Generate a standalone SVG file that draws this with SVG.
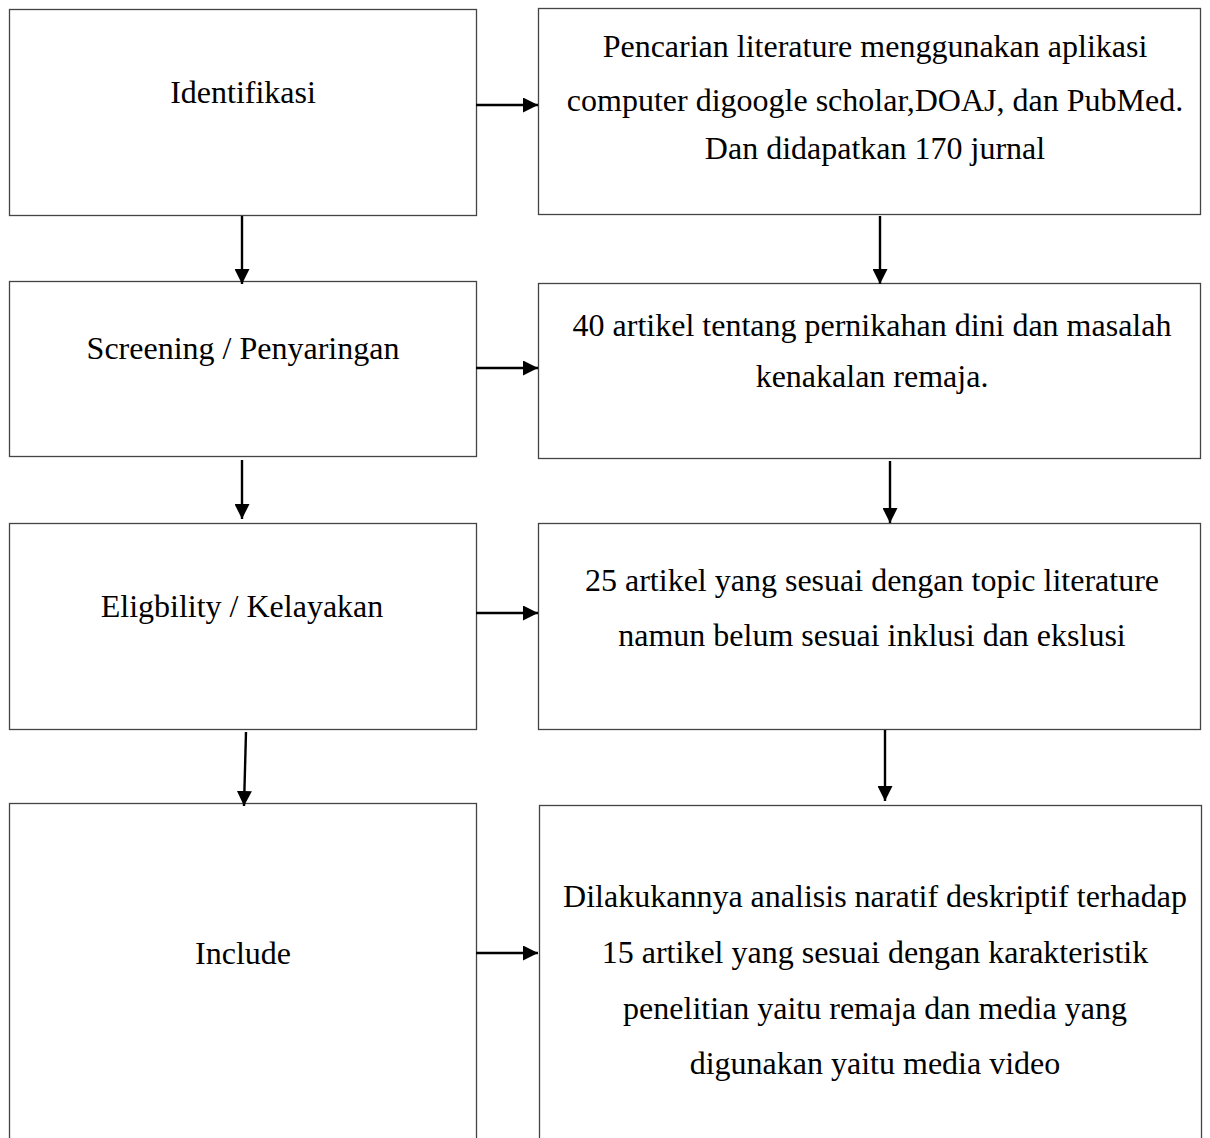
<svg xmlns="http://www.w3.org/2000/svg" width="1210" height="1138" viewBox="0 0 1210 1138">
<style>
rect.box{fill:#fff;stroke:#444;stroke-width:1.3}
text{font-family:"Liberation Serif","Times New Roman",serif;font-size:32px;fill:#000;text-anchor:middle}
.c line{stroke:#000;stroke-width:2.4}
</style>
<defs>
<marker id="ah" viewBox="0 0 10 10" refX="10" refY="5" markerWidth="15" markerHeight="15" orient="auto" markerUnits="userSpaceOnUse">
<path d="M0,0 L10,5 L0,10 z" fill="#000"/>
</marker>
</defs>
<rect width="1210" height="1138" fill="#fff"/>
<g id="n1"><rect class="box" x="9.5" y="9.5" width="467" height="206"/><text x="243" y="103">Identifikasi</text></g>
<g id="n2"><rect class="box" x="538.5" y="8.5" width="662" height="206"/>
<text x="875" y="57">Pencarian literature menggunakan aplikasi</text>
<text x="875" y="111">computer digoogle scholar,DOAJ, dan PubMed.</text>
<text x="875" y="159">Dan didapatkan 170 jurnal</text></g>
<g id="n3"><rect class="box" x="9.5" y="281.5" width="467" height="175"/><text x="243" y="359">Screening / Penyaringan</text></g>
<g id="n4"><rect class="box" x="538.5" y="283.5" width="662" height="175"/>
<text x="872" y="336">40 artikel tentang pernikahan dini dan masalah</text>
<text x="872" y="387">kenakalan remaja.</text></g>
<g id="n5"><rect class="box" x="9.5" y="523.5" width="467" height="206"/><text x="242" y="617">Eligbility / Kelayakan</text></g>
<g id="n6"><rect class="box" x="538.5" y="523.5" width="662" height="206"/>
<text x="872" y="591">25 artikel yang sesuai dengan topic literature</text>
<text x="872" y="646">namun belum sesuai inklusi dan ekslusi</text></g>
<g id="n7"><rect class="box" x="9.5" y="803.5" width="467" height="360"/><text x="243" y="964">Include</text></g>
<g id="n8"><rect class="box" x="539.5" y="805.5" width="662" height="360"/>
<text x="875" y="907">Dilakukannya analisis naratif deskriptif terhadap</text>
<text x="875" y="963">15 artikel yang sesuai dengan karakteristik</text>
<text x="875" y="1019">penelitian yaitu remaja dan media yang</text>
<text x="875" y="1074">digunakan yaitu media video</text></g>
<g class="c" id="connectors">
<line x1="476" y1="105" x2="538" y2="105" marker-end="url(#ah)"/>
<line x1="242" y1="216" x2="242" y2="284" marker-end="url(#ah)"/>
<line x1="880" y1="216" x2="880" y2="284" marker-end="url(#ah)"/>
<line x1="476" y1="368" x2="538" y2="368" marker-end="url(#ah)"/>
<line x1="242" y1="460" x2="242" y2="519" marker-end="url(#ah)"/>
<line x1="890" y1="461" x2="890" y2="523" marker-end="url(#ah)"/>
<line x1="476" y1="613" x2="538" y2="613" marker-end="url(#ah)"/>
<line x1="246" y1="732" x2="244" y2="806" marker-end="url(#ah)"/>
<line x1="885" y1="730" x2="885" y2="801" marker-end="url(#ah)"/>
<line x1="476" y1="953" x2="538" y2="953" marker-end="url(#ah)"/>
</g>
</svg>
